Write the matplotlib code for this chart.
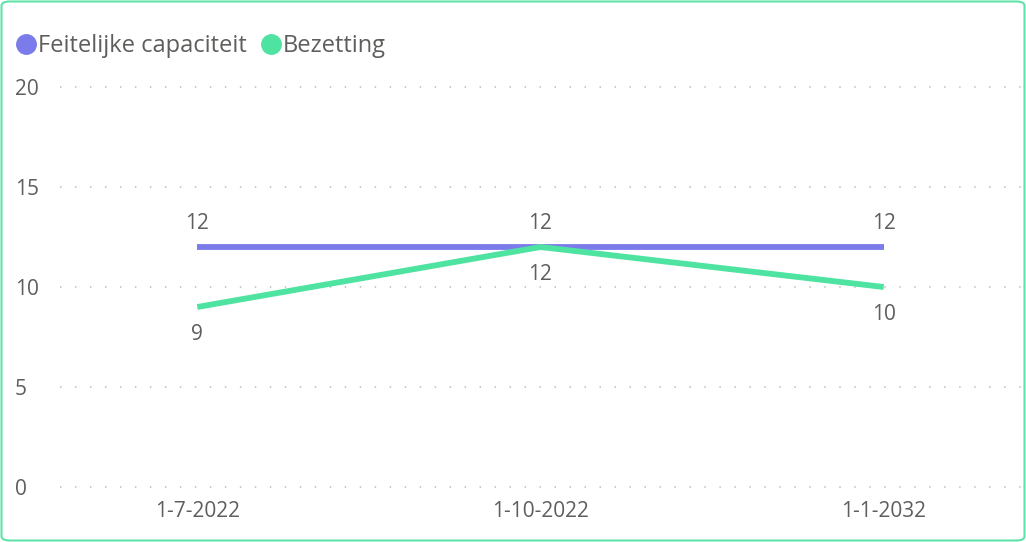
import matplotlib
matplotlib.use('Agg')
import matplotlib.pyplot as plt
from matplotlib.lines import Line2D
from matplotlib.patches import FancyBboxPatch

categories = ['1-7-2022', '1-10-2022', '1-1-2032']
capaciteit = [12, 12, 12]
bezetting = [9, 12, 10]
yticks = [0, 5, 10, 15, 20]

purple = '#7B7BEB'
green = '#4FE3A1'
textc = '#605E5C'

plt.rcParams['font.family'] = ['Open Sans', 'DejaVu Sans']

fig = plt.figure(figsize=(10.26, 5.42), dpi=100)
ax = fig.add_axes([60 / 1026, 55 / 542, 961 / 1026, 400 / 542])

x = list(range(len(categories)))
ax.plot(x, capaciteit, color=purple, linewidth=4.2, solid_capstyle='butt', zorder=3)
ax.plot(x, bezetting, color=green, linewidth=4.2, solid_capstyle='butt', zorder=3)

for xi, v in zip(x, capaciteit):
    ax.annotate(str(v), (xi, v), xytext=(0, 17), textcoords='offset points',
                ha='center', va='center', fontsize=15, color=textc)
for xi, v in zip(x, bezetting):
    ax.annotate(str(v), (xi, v), xytext=(0, -19.5), textcoords='offset points',
                ha='center', va='center', fontsize=15, color=textc)

ax.set_xlim(-0.4, 2.4)
ax.set_ylim(0, 20)
ax.set_yticks(yticks)
ax.set_xticks(x)
ax.set_xticklabels(categories)
for y in yticks:
    ax.axhline(y, color='#C4C4C4', linewidth=1.3, linestyle=(0, (0.8, 7.5)),
               clip_on=False, zorder=1)
for s in ax.spines.values():
    s.set_visible(False)
ax.tick_params(axis='both', length=0, labelsize=15, labelcolor=textc)
ax.tick_params(axis='x', pad=10)
for lab in ax.get_yticklabels():
    lab.set_horizontalalignment('left')
ax.yaxis.set_tick_params(pad=32.5)

handles = [Line2D([], [], marker='o', linestyle='none', markersize=14, color=purple),
           Line2D([], [], marker='o', linestyle='none', markersize=14, color=green)]
fig.legend(handles, ['Feitelijke capaciteit', 'Bezetting'], loc='upper left',
           bbox_to_anchor=(13 / 1026, 1 - 34 / 542), frameon=False, fontsize=17,
           labelcolor=textc, ncol=2, handletextpad=-0.05, columnspacing=0.5,
           handlelength=1.1, borderpad=0, borderaxespad=0)

border = FancyBboxPatch((1.5 / 1026, 1.5 / 542), 1 - 3 / 1026, 1 - 3 / 542,
                        boxstyle='round,pad=0,rounding_size=0.008',
                        transform=fig.transFigure, facecolor='none',
                        edgecolor='#5EE3AA', linewidth=1.5)
fig.patches.append(border)

fig.savefig('out.png', dpi=100)
